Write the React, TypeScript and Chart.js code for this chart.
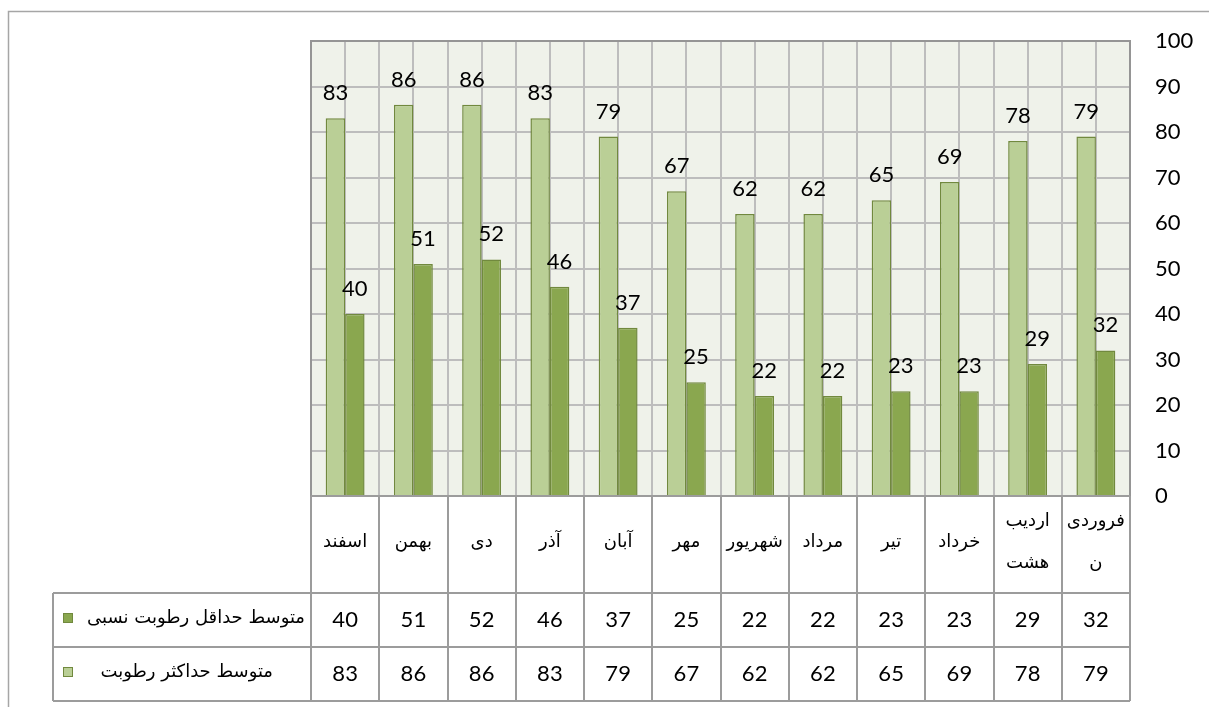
import { useEffect, useRef } from 'react';
import { Chart, registerables } from 'chart.js';

Chart.register(...registerables);

// ---- data ----
const months = ['فروردین', 'اردیبهشت', 'خرداد', 'تیر', 'مرداد', 'شهریور', 'مهر', 'آبان', 'آذر', 'دی', 'بهمن', 'اسفند'];
const monthLines = [['فروردی', 'ن'], ['اردیب', 'هشت'], ['خرداد'], ['تیر'], ['مرداد'], ['شهریور'], ['مهر'], ['آبان'], ['آذر'], ['دی'], ['بهمن'], ['اسفند']];
const maxHumidity = [79, 78, 69, 65, 62, 62, 67, 79, 83, 86, 86, 83];
const minHumidity = [32, 29, 23, 23, 22, 22, 25, 37, 46, 52, 51, 40];
const maxLabel = 'متوسط حداکثر رطوبت';
const minLabel = 'متوسط حداقل رطوبت نسبی';
const yMin = 0;
const yMax = 100;
const yStep = 10;

// ---- styles ----
const LIGHT = '#BACF96';
const DARK = '#8AA74F';
const BAR_BORDER = '#71893E';
const GRID = '#BDBDBD';
const TABLE_LINE = '#9C9C9C';
const PLOT_BG = '#EFF2EA';
const NUM_FONT = '22px Lato, "Open Sans", sans-serif';
const FA_FONT = '18px "DejaVu Sans", sans-serif';

const CAT_ROW_H = 97;
const ROW_H = 54;
const LEGEND_LEFT = 53;

const tablePlugin = {
  id: 'tablePlugin',
  beforeDraw(chart: any) {
    const { ctx, chartArea: a } = chart;
    ctx.save();
    ctx.fillStyle = '#ffffff';
    ctx.fillRect(0, 0, chart.width, chart.height);
    // outer frame
    ctx.strokeStyle = '#A6A6A6';
    ctx.lineWidth = 1.5;
    ctx.strokeRect(8.5, 11.5, chart.width + 50, chart.height + 50);
    ctx.fillStyle = PLOT_BG;
    ctx.fillRect(a.left, a.top, a.right - a.left, a.bottom - a.top);
    ctx.restore();
  },
  beforeDatasetsDraw(chart: any) {
    const { ctx, chartArea: a, scales } = chart;
    const x = scales.x;
    ctx.save();
    ctx.strokeStyle = GRID;
    ctx.lineWidth = 2;
    for (let i = 0; i < months.length; i++) {
      const px = Math.round(x.getPixelForValue(i));
      ctx.beginPath();
      ctx.moveTo(px, a.top);
      ctx.lineTo(px, a.bottom);
      ctx.stroke();
    }
    ctx.restore();
  },
  afterDatasetsDraw(chart: any) {
    const { ctx } = chart;
    ctx.save();
    ctx.font = NUM_FONT;
    ctx.fillStyle = '#000';
    ctx.textAlign = 'center';
    ctx.textBaseline = 'alphabetic';
    chart.data.datasets.forEach((ds: any, di: number) => {
      const meta = chart.getDatasetMeta(di);
      meta.data.forEach((bar: any, i: number) => {
        ctx.fillText(String(ds.data[i]), bar.x, bar.y - 18);
      });
    });
    ctx.restore();
  },
  afterDraw(chart: any) {
    const { ctx, chartArea: a, scales } = chart;
    const x = scales.x;
    const n = months.length;
    const colW = (a.right - a.left) / n;
    const y0 = a.bottom;
    const y1 = y0 + CAT_ROW_H;
    const y2 = y1 + ROW_H;
    const y3 = y2 + ROW_H;
    ctx.save();
    // plot border
    ctx.strokeStyle = '#959595';
    ctx.lineWidth = 2;
    ctx.strokeRect(a.left, a.top, a.right - a.left, a.bottom - a.top);
    // table lines
    ctx.strokeStyle = TABLE_LINE;
    ctx.lineWidth = 2;
    ctx.beginPath();
    ctx.moveTo(a.left, y0); ctx.lineTo(a.right, y0);
    for (const yy of [y1, y2, y3]) {
      ctx.moveTo(LEGEND_LEFT, yy); ctx.lineTo(a.right, yy);
    }
    for (let k = 0; k <= n; k++) {
      const px = Math.round(a.left + k * colW);
      ctx.moveTo(px, y0); ctx.lineTo(px, y3);
    }
    ctx.moveTo(LEGEND_LEFT, y1); ctx.lineTo(LEGEND_LEFT, y3);
    ctx.stroke();

    // category labels
    ctx.fillStyle = '#000';
    ctx.textAlign = 'center';
    ctx.textBaseline = 'middle';
    ctx.font = FA_FONT;
    ctx.direction = 'rtl';
    for (let i = 0; i < n; i++) {
      const cx = x.getPixelForValue(i);
      const lines = monthLines[i];
      const cy = (y0 + y1) / 2 - 2;
      const lh = 42;
      lines.forEach((ln, li) => {
        ctx.fillText(ln, cx, cy + (li - (lines.length - 1) / 2) * lh);
      });
    }
    // values
    ctx.direction = 'ltr';
    ctx.font = NUM_FONT;
    for (let i = 0; i < n; i++) {
      const cx = x.getPixelForValue(i);
      ctx.fillText(String(minHumidity[i]), cx, (y1 + y2) / 2);
      ctx.fillText(String(maxHumidity[i]), cx, (y2 + y3) / 2);
    }
    // legend column
    const keys = [
      { label: minLabel, color: DARK, y: (y1 + y2) / 2, right: a.left - 6 },
      { label: maxLabel, color: LIGHT, y: (y2 + y3) / 2, right: a.left - 38 },
    ];
    keys.forEach((k) => {
      ctx.fillStyle = k.color;
      ctx.fillRect(63, k.y - 7, 10, 10);
      ctx.strokeStyle = BAR_BORDER;
      ctx.lineWidth = 1;
      ctx.strokeRect(63.5, k.y - 6.5, 9, 9);
      ctx.fillStyle = '#000';
      ctx.font = FA_FONT;
      ctx.direction = 'rtl';
      ctx.textAlign = 'right';
      ctx.fillText(k.label, k.right, k.y - 2);
    });
    ctx.restore();
  },
};

export default function App() {
  const ref = useRef<HTMLCanvasElement | null>(null);
  useEffect(() => {
    if (!ref.current) return;
    const chart = new Chart(ref.current, {
      type: 'bar',
      data: {
        labels: months,
        datasets: [
          {
            label: maxLabel,
            data: maxHumidity,
            backgroundColor: LIGHT,
            borderColor: BAR_BORDER,
            borderWidth: 1.5,
            categoryPercentage: 0.57,
            barPercentage: 1,
          },
          {
            label: minLabel,
            data: minHumidity,
            backgroundColor: DARK,
            borderColor: BAR_BORDER,
            borderWidth: 1.5,
            categoryPercentage: 0.57,
            barPercentage: 1,
          },
        ],
      },
      options: {
        responsive: false,
        animation: false,
        devicePixelRatio: 1,
        layout: { padding: { left: 311, top: 41, right: 0, bottom: 211 } },
        plugins: { legend: { display: false }, tooltip: { enabled: false } },
        scales: {
          x: {
            reverse: true,
            offset: true,
            grid: { color: GRID, lineWidth: 2, drawTicks: false, offset: true },
            border: { display: false },
            ticks: { display: false },
          },
          y: {
            position: 'right',
            min: yMin,
            max: yMax,
            ticks: {
              stepSize: yStep,
              color: '#000',
              font: { family: 'Lato, "Open Sans", sans-serif', size: 22 },
              padding: 25,
            },
            grid: { color: GRID, lineWidth: 2, drawTicks: false },
            border: { display: false },
            afterFit: (s: any) => { s.width = 79; },
          },
        },
      },
      plugins: [tablePlugin],
    } as any);
    return () => chart.destroy();
  }, []);
  return (
    <div style={{ position: 'absolute', left: 0, top: 0 }}>
      <canvas ref={ref} width={1209} height={707} style={{ display: 'block' }} />
    </div>
  );
}
